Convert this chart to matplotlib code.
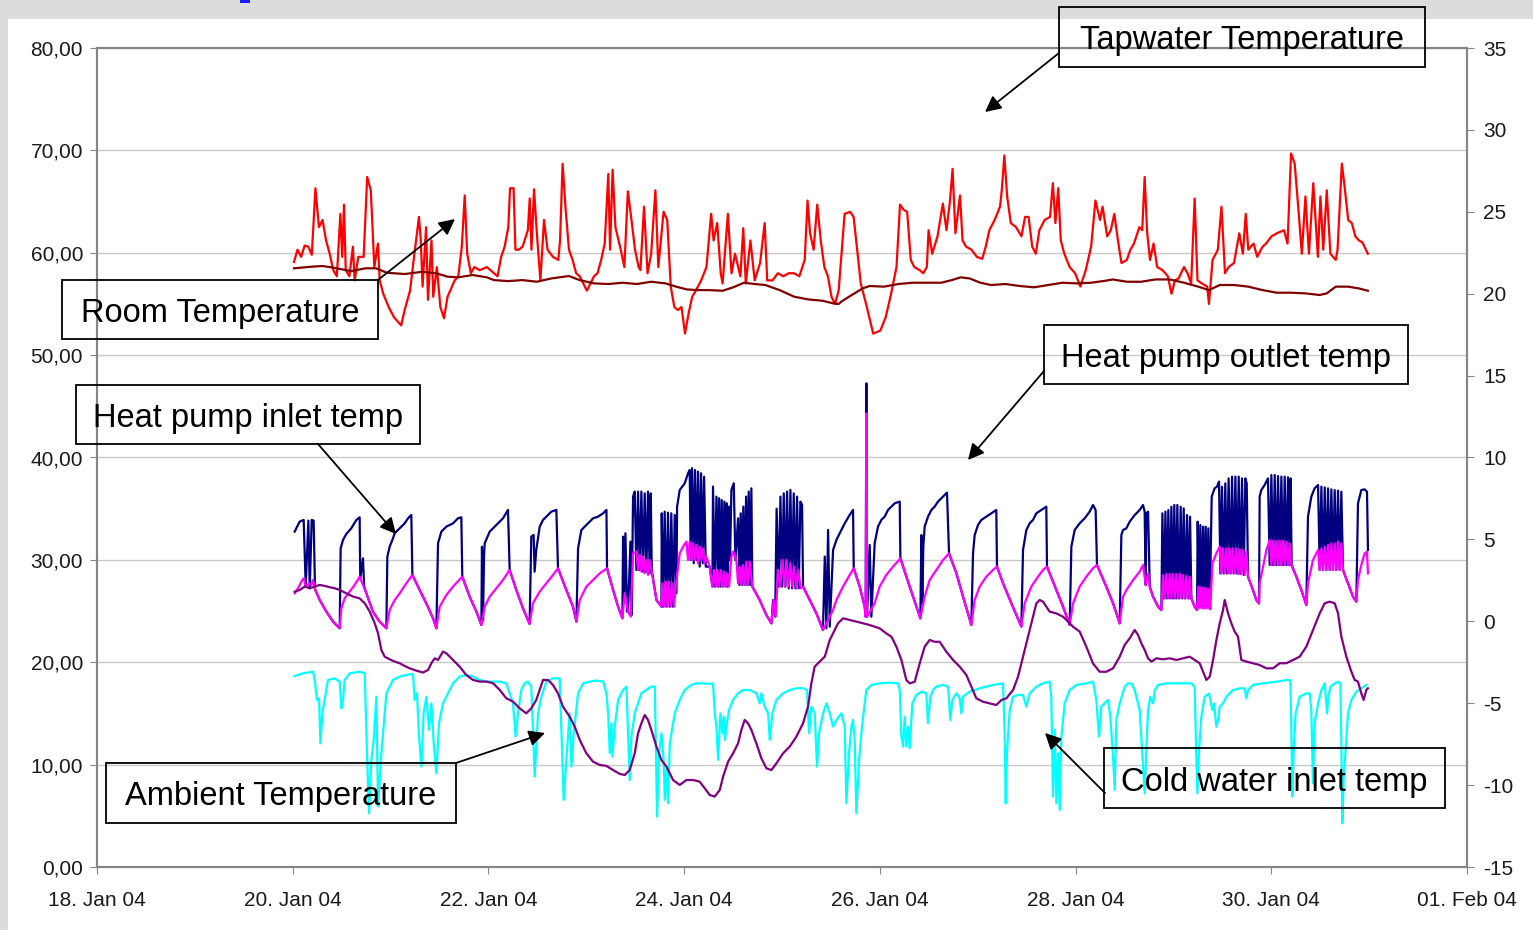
import matplotlib
matplotlib.use('Agg')
import matplotlib.pyplot as plt
import matplotlib.dates as mdates
from matplotlib.patches import Rectangle, FancyArrowPatch
import numpy as np
import datetime as dt

plt.rcParams['font.family'] = ['Liberation Sans', 'DejaVu Sans']

# ---------------- data ----------------
START = dt.datetime(2004, 1, 20)   # time values are days after this moment

x_tick_dates = ['2004-01-18', '2004-01-20', '2004-01-22', '2004-01-24',
                '2004-01-26', '2004-01-28', '2004-01-30', '2004-02-01']
x_tick_labels = ['18. Jan 04', '20. Jan 04', '22. Jan 04', '24. Jan 04',
                 '26. Jan 04', '28. Jan 04', '30. Jan 04', '01. Feb 04']
left_ticks = [0, 10, 20, 30, 40, 50, 60, 70, 80]
left_tick_labels = ['0,00', '10,00', '20,00', '30,00', '40,00', '50,00',
                    '60,00', '70,00', '80,00']
right_ticks = [-15, -10, -5, 0, 5, 10, 15, 20, 25, 30, 35]
right_tick_labels = ['-15', '-10', '-5', '0', '5', '10', '15', '20', '25',
                     '30', '35']

# (day, value) pairs -- left axis
tapwater = [
    (0.013, 59.1), (0.049, 60.3), (0.086, 59.6), (0.122, 60.7), (0.159, 60.6), (0.195, 59.8), (0.232, 66.3),
    (0.268, 62.5), (0.305, 63.2), (0.341, 61.2), (0.378, 59.9), (0.414, 58.3), (0.451, 57.7), (0.487, 63.8),
    (0.506, 59.6), (0.524, 64.7), (0.542, 58.3), (0.579, 57.7), (0.615, 60.6), (0.633, 57.3), (0.670, 59.6),
    (0.725, 59.6), (0.761, 67.4), (0.798, 66.1), (0.834, 58.6), (0.871, 60.9), (0.889, 57.3), (0.925, 56.0),
    (0.980, 54.7), (1.035, 53.7), (1.108, 52.9), (1.144, 54.4), (1.199, 56.3), (1.236, 59.3), (1.290, 63.5),
    (1.309, 61.2), (1.327, 56.7), (1.363, 62.5), (1.382, 55.4), (1.418, 61.2), (1.436, 55.7), (1.473, 58.6),
    (1.509, 54.7), (1.546, 53.6), (1.582, 55.7), (1.655, 57.3), (1.692, 57.7), (1.728, 60.6), (1.758, 65.6),
    (1.783, 59.9), (1.820, 58.0), (1.856, 58.6), (1.911, 58.3), (1.984, 58.6), (2.057, 58.0), (2.093, 57.7),
    (2.130, 59.6), (2.166, 60.6), (2.203, 62.5), (2.221, 66.3), (2.257, 66.3), (2.276, 60.3), (2.312, 60.3),
    (2.349, 60.6), (2.403, 62.2), (2.422, 65.3), (2.440, 60.3), (2.466, 66.2), (2.495, 61.9), (2.531, 57.3),
    (2.568, 63.2), (2.604, 60.3), (2.659, 59.6), (2.714, 59.3), (2.732, 61.2), (2.758, 68.7), (2.787, 64.5),
    (2.823, 60.3), (2.860, 59.3), (2.896, 58.0), (2.933, 57.7), (3.006, 56.3), (3.042, 57.0), (3.079, 57.7),
    (3.115, 58.0), (3.152, 59.3), (3.188, 60.9), (3.225, 67.7), (3.243, 60.3), (3.269, 68.1), (3.298, 62.5),
    (3.352, 60.3), (3.389, 58.6), (3.425, 66.0), (3.462, 63.2), (3.498, 60.3), (3.535, 58.6), (3.553, 58.3),
    (3.590, 64.5), (3.626, 58.0), (3.663, 59.9), (3.706, 66.1), (3.736, 58.6), (3.790, 64.0), (3.827, 63.2),
    (3.863, 56.7), (3.900, 54.7), (3.936, 54.4), (3.973, 54.7), (4.009, 52.1), (4.046, 54.1), (4.082, 55.7),
    (4.119, 56.3), (4.174, 57.3), (4.228, 58.6), (4.276, 63.8), (4.301, 61.2), (4.338, 62.9), (4.374, 58.0),
    (4.393, 57.0), (4.447, 63.8), (4.484, 58.0), (4.520, 59.9), (4.575, 57.7), (4.604, 62.4), (4.630, 57.0),
    (4.677, 61.2), (4.721, 57.3), (4.776, 59.0), (4.823, 62.9), (4.849, 57.3), (4.903, 57.3), (4.958, 58.0),
    (5.013, 57.7), (5.068, 58.0), (5.122, 58.0), (5.177, 57.7), (5.232, 59.3), (5.261, 65.1), (5.287, 61.9),
    (5.323, 60.3), (5.360, 64.7), (5.396, 61.2), (5.433, 58.6), (5.469, 57.7), (5.506, 55.7), (5.542, 55.0),
    (5.579, 56.3), (5.640, 63.8), (5.695, 64.0), (5.732, 63.5), (5.768, 60.3), (5.805, 57.0), (5.859, 55.0),
    (5.914, 52.8), (5.932, 52.1), (6.005, 52.4), (6.060, 53.7), (6.115, 56.0), (6.170, 58.6), (6.206, 64.7),
    (6.243, 64.2), (6.279, 64.0), (6.316, 59.3), (6.352, 58.6), (6.407, 58.3), (6.443, 58.0), (6.480, 58.6),
    (6.498, 62.2), (6.535, 59.9), (6.589, 61.6), (6.644, 64.8), (6.681, 62.2), (6.717, 65.1), (6.743, 68.2),
    (6.772, 61.9), (6.819, 65.6), (6.845, 61.2), (6.881, 60.6), (6.936, 60.3), (6.991, 59.6), (7.046, 59.4),
    (7.082, 60.6), (7.119, 62.2), (7.173, 63.2), (7.228, 64.5), (7.246, 66.1), (7.272, 69.5), (7.301, 65.5),
    (7.338, 62.9), (7.392, 62.5), (7.447, 61.6), (7.484, 63.5), (7.520, 63.5), (7.557, 60.6), (7.593, 59.9),
    (7.630, 62.2), (7.684, 63.2), (7.739, 63.5), (7.768, 66.8), (7.794, 62.9), (7.823, 66.3), (7.849, 61.2),
    (7.885, 59.9), (7.940, 58.6), (7.995, 58.0), (8.049, 56.7), (8.104, 58.3), (8.159, 60.6), (8.203, 65.1),
    (8.250, 63.2), (8.276, 64.5), (8.323, 61.6), (8.360, 62.2), (8.396, 63.8), (8.433, 61.2), (8.469, 59.0),
    (8.524, 59.3), (8.560, 60.3), (8.597, 60.9), (8.652, 62.5), (8.681, 62.2), (8.706, 67.4), (8.732, 61.9),
    (8.761, 59.3), (8.797, 60.9), (8.834, 58.6), (8.889, 58.3), (8.943, 57.7), (8.980, 56.0), (9.016, 57.3),
    (9.053, 57.5), (9.108, 58.6), (9.144, 58.0), (9.181, 57.0), (9.217, 65.3), (9.246, 57.3), (9.290, 57.0),
    (9.345, 56.7), (9.363, 55.0), (9.400, 59.3), (9.454, 60.3), (9.491, 64.5), (9.527, 58.0), (9.564, 58.6),
    (9.619, 59.0), (9.673, 61.9), (9.710, 59.9), (9.739, 63.8), (9.765, 60.3), (9.819, 60.9), (9.856, 59.6),
    (9.911, 60.6), (9.947, 60.9), (10.002, 61.6), (10.056, 61.9), (10.130, 62.2), (10.166, 60.9), (10.202, 69.7),
    (10.239, 68.7), (10.275, 64.5), (10.312, 59.9), (10.349, 65.5), (10.385, 59.9), (10.429, 66.8), (10.476, 59.6),
    (10.502, 65.5), (10.531, 60.3), (10.567, 66.1), (10.604, 59.9), (10.659, 59.3), (10.677, 60.3), (10.721, 68.7),
    (10.750, 66.4), (10.786, 63.2), (10.823, 62.9), (10.859, 61.6), (10.896, 61.2), (10.932, 61.0), (10.987, 59.9),
]

hp_outlet = [
    (0.020, 32.76), (0.071, 33.74), (0.112, 33.90), (0.133, 27.39), (0.160, 33.83), (0.174, 27.22), (0.194, 33.90),
    (0.214, 33.83), (0.228, 27.13), (0.276, 26.08), (0.344, 24.94), (0.412, 23.97), (0.480, 23.32), (0.490, 31.13),
    (0.514, 31.95), (0.548, 32.53), (0.599, 33.09), (0.650, 33.90), (0.684, 34.16), (0.690, 28.2), (0.718, 30.15),
    (0.730, 27.4), (0.752, 26.74), (0.820, 24.94), (0.888, 23.97), (0.957, 23.32), (0.967, 30.32), (0.991, 31.29),
    (1.025, 32.11), (1.042, 32.60), (1.093, 33.09), (1.144, 33.57), (1.178, 34.06), (1.212, 34.39), (1.223, 28.53),
    (1.297, 27.06), (1.365, 25.76), (1.434, 24.29), (1.468, 23.32), (1.485, 31.62), (1.519, 32.76), (1.570, 33.25),
    (1.638, 33.57), (1.689, 34.06), (1.723, 34.16), (1.733, 28.36), (1.808, 26.41), (1.877, 24.94), (1.928, 23.64),
    (1.934, 31.29), (1.945, 24.13), (1.955, 30.32), (1.962, 31.62), (2.013, 32.76), (2.081, 33.41), (2.149, 34.06),
    (2.200, 34.88), (2.217, 29.01), (2.285, 27.06), (2.353, 25.27), (2.421, 23.74), (2.438, 32.27), (2.462, 32.43),
    (2.472, 28.85), (2.489, 30.97), (2.524, 33.25), (2.558, 33.90), (2.609, 34.39), (2.643, 34.71), (2.694, 34.88),
    (2.711, 29.18), (2.796, 27.06), (2.864, 25.43),
    (2.899, 23.97), (2.916, 31.13), (2.950, 32.92), (2.984, 33.25), (3.035, 33.74), (3.069, 34.06), (3.120, 34.22),
    (3.172, 34.55), (3.206, 34.88), (3.212, 29.18), (3.274, 27.06), (3.325, 25.43), (3.369, 24.29), (3.376, 32.27),
    (3.386, 25.76), (3.400, 32.60), (3.417, 24.94), (3.427, 24.94), (3.451, 31.78), (3.464, 24.62), (3.478, 36.18),
    (3.495, 36.67), (3.512, 29.01), (3.529, 36.67), (3.546, 29.01), (3.563, 36.67), (3.580, 28.85), (3.597, 36.50),
    (3.614, 28.85), (3.631, 36.67), (3.648, 28.69), (3.659, 36.50), (3.669, 29.01), (3.717, 26.08), (3.768, 25.43),
    (3.771, 34.55), (3.784, 25.43), (3.801, 34.71), (3.818, 25.43), (3.835, 34.61), (3.852, 25.43), (3.869, 34.55),
    (3.887, 25.43), (3.904, 34.39), (3.921, 26.74), (3.928, 35.20), (3.955, 36.83), (4.006, 37.48), (4.040, 38.46),
    (4.057, 38.78), (4.067, 29.99), (4.081, 38.95), (4.098, 29.67), (4.111, 38.78), (4.128, 29.99), (4.142, 38.62),
    (4.159, 29.34), (4.173, 38.46), (4.190, 29.67), (4.204, 38.13), (4.221, 29.34), (4.261, 29.34), (4.289, 27.39),
    (4.295, 37.16), (4.313, 27.39), (4.330, 36.18), (4.347, 27.39), (4.357, 36.02), (4.371, 27.39), (4.384, 35.85),
    (4.398, 27.39), (4.411, 35.69), (4.425, 27.39), (4.435, 35.53), (4.445, 27.39), (4.459, 35.20), (4.469, 29.99),
    (4.483, 36.83), (4.507, 37.48), (4.524, 29.99), (4.551, 34.06), (4.565, 27.55), (4.578, 34.55), (4.592, 27.55),
    (4.605, 35.20), (4.619, 27.55), (4.633, 36.18), (4.646, 27.55), (4.660, 36.67), (4.674, 27.55), (4.687, 36.99),
    (4.697, 27.39), (4.772, 26.08), (4.840, 24.62), (4.892, 23.80), (4.909, 26.08), (4.930, 24.46), (4.945, 35.00),
    (4.966, 27.39), (4.984, 36.18), (5.001, 27.39), (5.018, 36.50), (5.035, 27.39), (5.052, 36.67), (5.069, 27.22),
    (5.086, 36.83), (5.103, 27.22), (5.120, 36.50), (5.137, 27.22), (5.154, 36.18), (5.171, 27.22), (5.188, 35.69),
    (5.205, 35.36), (5.215, 27.39), (5.283, 26.08), (5.351, 24.78), (5.419, 23.15), (5.437, 30.32), (5.454, 23.32),
    (5.471, 32.92), (5.488, 23.48), (5.522, 30.97), (5.556, 31.95), (5.590, 32.60), (5.641, 33.57), (5.692, 34.39),
    (5.726, 34.88), (5.733, 29.18), (5.794, 27.39), (5.845, 25.43),
    (5.855, 24.45), (5.862, 47.25), (5.869, 24.45), (5.896, 31.46), (5.913, 24.45), (5.947, 31.62), (5.981, 33.25),
    (6.015, 33.90), (6.049, 34.22), (6.083, 34.87), (6.118, 35.20), (6.152, 35.53), (6.203, 35.69), (6.210, 30.15),
    (6.271, 28.36), (6.339, 26.41), (6.414, 24.29), (6.424, 32.43), (6.434, 25.76), (6.444, 31.29), (6.458, 33.25),
    (6.492, 34.22), (6.526, 34.87), (6.560, 35.20), (6.594, 35.69), (6.628, 36.01), (6.662, 36.34), (6.686, 36.57),
    (6.707, 30.64), (6.782, 28.69), (6.850, 26.41), (6.935, 23.64), (6.952, 30.64), (6.969, 32.43), (7.003, 33.41),
    (7.037, 33.90), (7.088, 34.22), (7.139, 34.55), (7.190, 34.87), (7.197, 29.34), (7.259, 27.71), (7.344, 25.76),
    (7.446, 23.48), (7.463, 30.97), (7.497, 32.92), (7.531, 33.57), (7.565, 33.90), (7.599, 34.55), (7.650, 34.87),
    (7.701, 35.20), (7.708, 29.34), (7.804, 27.06), (7.872, 25.43), (7.940, 23.64), (7.957, 31.29), (7.991, 32.92),
    (8.042, 33.57), (8.093, 34.06), (8.144, 34.71), (8.178, 35.36), (8.205, 34.87), (8.219, 29.50), (8.314, 27.39),
    (8.383, 25.76), (8.451, 23.80),
    (8.468, 32.43), (8.485, 32.92), (8.519, 33.08), (8.553, 33.73), (8.604, 34.38), (8.655, 34.87), (8.689, 35.36),
    (8.706, 34.71), (8.717, 27.54), (8.723, 34.54), (8.741, 34.71), (8.758, 27.38), (8.792, 26.40), (8.843, 25.43),
    (8.877, 25.10), (8.887, 34.54), (8.904, 26.24), (8.918, 34.71), (8.935, 26.24), (8.948, 34.87), (8.965, 26.24),
    (8.979, 35.19), (8.996, 26.24), (9.009, 35.36), (9.026, 26.24), (9.040, 35.36), (9.057, 26.24), (9.074, 35.19),
    (9.091, 26.24), (9.105, 35.03), (9.122, 26.24), (9.139, 34.38), (9.156, 26.24), (9.170, 34.22), (9.183, 26.24),
    (9.217, 25.43), (9.241, 25.10), (9.248, 33.73), (9.262, 25.43), (9.275, 33.40), (9.289, 25.43), (9.303, 33.24),
    (9.316, 25.43), (9.330, 33.24), (9.343, 25.43), (9.357, 33.08), (9.371, 25.26), (9.391, 36.17), (9.421, 36.99),
    (9.445, 37.15), (9.466, 37.64), (9.480, 28.68), (9.496, 37.15), (9.513, 28.68), (9.530, 37.47), (9.547, 28.68),
    (9.564, 37.96), (9.582, 28.68), (9.599, 38.13), (9.616, 28.68), (9.633, 38.13), (9.650, 28.68), (9.667, 38.13),
    (9.684, 28.62), (9.701, 37.96), (9.718, 28.52), (9.735, 37.96), (9.749, 37.47), (9.762, 28.36), (9.813, 27.05),
    (9.847, 26.08), (9.875, 25.75), (9.881, 36.17), (9.898, 36.82), (9.932, 37.31), (9.966, 37.96), (9.984, 29.50),
    (10.001, 38.29), (10.018, 29.50), (10.035, 38.29), (10.052, 29.50), (10.069, 38.19), (10.086, 29.50),
    (10.103, 38.13), (10.120, 29.50), (10.137, 38.13), (10.154, 29.50), (10.171, 38.06), (10.188, 29.50),
    (10.198, 37.96), (10.208, 29.50), (10.256, 28.36), (10.307, 27.05), (10.358, 25.59), (10.375, 34.22),
    (10.409, 36.17), (10.443, 36.99), (10.478, 37.31), (10.495, 29.01), (10.512, 37.15), (10.529, 29.01),
    (10.546, 37.08), (10.563, 29.01), (10.580, 36.99), (10.597, 29.01), (10.614, 36.89), (10.631, 29.01),
    (10.648, 36.82), (10.665, 29.01), (10.682, 36.76), (10.699, 29.01), (10.716, 36.66), (10.733, 29.01),
    (10.784, 27.71), (10.835, 26.40), (10.869, 25.92), (10.886, 35.52), (10.920, 36.82), (10.954, 36.89),
    (10.978, 36.66), (10.988, 30.96),
]

hp_inlet = [
    (0.020, 26.74), (0.054, 27.22), (0.088, 27.87), (0.112, 28.20), (0.133, 27.39), (0.167, 27.71), (0.190, 27.55),
    (0.207, 28.04), (0.228, 27.13), (0.276, 26.08), (0.344, 24.94), (0.412, 23.97), (0.480, 23.32), (0.497, 25.27),
    (0.531, 26.25), (0.582, 26.90), (0.633, 27.55), (0.684, 28.36), (0.752, 26.74), (0.820, 24.94), (0.888, 23.97),
    (0.957, 23.32), (0.991, 25.11), (1.042, 26.08), (1.093, 26.74), (1.161, 27.71), (1.223, 28.53), (1.297, 27.06),
    (1.365, 25.76), (1.434, 24.29), (1.468, 23.32), (1.502, 25.43), (1.570, 26.57), (1.638, 27.39), (1.733, 28.36),
    (1.808, 26.41), (1.877, 24.94), (1.928, 23.64), (1.962, 25.43), (2.013, 26.41), (2.081, 27.22), (2.149, 28.04),
    (2.217, 29.01), (2.285, 27.06), (2.353, 25.27), (2.421, 23.74), (2.455, 25.76), (2.524, 26.90), (2.592, 27.71),
    (2.660, 28.53), (2.711, 29.18), (2.796, 27.06), (2.864, 25.43),
    (2.899, 23.97), (2.933, 26.08), (3.001, 27.39), (3.069, 28.04), (3.138, 28.69), (3.212, 29.18), (3.274, 27.06),
    (3.325, 25.43), (3.369, 24.29), (3.393, 26.74), (3.427, 24.94), (3.454, 24.46), (3.478, 30.64), (3.512, 30.81),
    (3.529, 29.01), (3.546, 30.48), (3.563, 28.85), (3.580, 30.32), (3.597, 28.69), (3.614, 29.99), (3.631, 28.53),
    (3.648, 29.99), (3.665, 29.01), (3.717, 26.08), (3.768, 25.43), (3.778, 27.71), (3.795, 25.43), (3.812, 27.87),
    (3.829, 25.43), (3.846, 27.87), (3.863, 25.43), (3.880, 27.71), (3.897, 25.43), (3.914, 27.39), (3.955, 30.64),
    (3.989, 31.29), (4.023, 31.78), (4.040, 29.99), (4.057, 31.78), (4.074, 29.99), (4.091, 31.62), (4.108, 29.99),
    (4.125, 31.46), (4.142, 29.67), (4.159, 31.29), (4.176, 29.99), (4.193, 31.13), (4.210, 29.67), (4.227, 30.32),
    (4.261, 29.34), (4.289, 27.39), (4.306, 29.01), (4.323, 27.39), (4.340, 29.01), (4.357, 27.39), (4.374, 29.01),
    (4.391, 27.39), (4.408, 28.85), (4.425, 27.39), (4.442, 28.69), (4.459, 27.39), (4.483, 30.32), (4.500, 30.81),
    (4.534, 29.99), (4.551, 27.71), (4.568, 29.34), (4.585, 27.55), (4.602, 29.50), (4.619, 27.55), (4.636, 29.83),
    (4.653, 27.55), (4.670, 29.83), (4.697, 27.39), (4.772, 26.08), (4.840, 24.62), (4.892, 23.80), (4.915, 26.08),
    (4.936, 24.46), (4.960, 29.01), (4.984, 27.39), (5.004, 29.99), (5.028, 27.39), (5.045, 29.99), (5.069, 27.39),
    (5.086, 29.67), (5.106, 27.39), (5.123, 29.34), (5.147, 27.22), (5.167, 29.01), (5.191, 27.22), (5.215, 27.39),
    (5.283, 26.08), (5.351, 24.78), (5.419, 23.15), (5.454, 23.80), (5.488, 24.46), (5.522, 25.11), (5.556, 26.08),
    (5.624, 27.39), (5.692, 28.53), (5.733, 29.18), (5.794, 27.39), (5.845, 25.43),
    (5.855, 24.45), (5.862, 44.32), (5.869, 24.45), (5.947, 25.76), (5.998, 27.39), (6.066, 28.53), (6.135, 29.34),
    (6.210, 30.15), (6.271, 28.36), (6.339, 26.41), (6.414, 24.29), (6.458, 26.41), (6.509, 28.04), (6.577, 29.01),
    (6.646, 29.99), (6.707, 30.64), (6.782, 28.69), (6.850, 26.41), (6.935, 23.64), (6.969, 26.08), (7.020, 27.39),
    (7.088, 28.36), (7.156, 29.01), (7.197, 29.34), (7.259, 27.71), (7.344, 25.76), (7.446, 23.48), (7.480, 25.76),
    (7.548, 27.39), (7.616, 28.36), (7.667, 29.01), (7.708, 29.34), (7.804, 27.06), (7.872, 25.43), (7.940, 23.64),
    (7.974, 25.76), (8.042, 27.39), (8.110, 28.36), (8.178, 29.18), (8.219, 29.50), (8.314, 27.39), (8.383, 25.76),
    (8.451, 23.80),
    (8.485, 26.40), (8.519, 27.05), (8.587, 28.03), (8.655, 28.85), (8.689, 29.50), (8.717, 27.54), (8.741, 28.68),
    (8.758, 27.38), (8.792, 26.40), (8.843, 25.43), (8.877, 25.10), (8.894, 28.52), (8.911, 26.24), (8.928, 28.62),
    (8.945, 26.24), (8.962, 28.62), (8.979, 26.24), (8.996, 28.62), (9.013, 26.24), (9.030, 28.62), (9.047, 26.24),
    (9.064, 28.62), (9.081, 26.24), (9.098, 28.52), (9.115, 26.24), (9.132, 28.42), (9.149, 26.24), (9.166, 28.36),
    (9.183, 26.24), (9.217, 25.43), (9.241, 25.10), (9.255, 27.38), (9.268, 25.26), (9.282, 27.32), (9.296, 25.26),
    (9.309, 27.32), (9.323, 25.26), (9.337, 27.22), (9.350, 25.26), (9.364, 27.12), (9.377, 25.17), (9.398, 29.66),
    (9.439, 30.64), (9.473, 31.29), (9.490, 28.68), (9.507, 31.12), (9.524, 28.68), (9.541, 31.12), (9.558, 28.68),
    (9.575, 31.12), (9.592, 28.68), (9.609, 31.12), (9.626, 28.68), (9.643, 31.12), (9.660, 28.62), (9.677, 31.03),
    (9.694, 28.62), (9.711, 30.96), (9.728, 28.52), (9.745, 30.80), (9.762, 28.36), (9.813, 27.05), (9.847, 26.08),
    (9.875, 25.75), (9.881, 27.71), (9.916, 29.33), (9.950, 30.96), (9.984, 31.94), (10.001, 29.50), (10.018, 31.87),
    (10.035, 29.50), (10.052, 31.87), (10.069, 29.50), (10.086, 31.87), (10.103, 29.50), (10.120, 31.87),
    (10.137, 29.50), (10.154, 31.78), (10.171, 29.50), (10.188, 31.61), (10.205, 29.50), (10.256, 28.36),
    (10.307, 27.05), (10.358, 25.59), (10.375, 27.71), (10.426, 29.99), (10.478, 30.96), (10.495, 29.01),
    (10.512, 31.12), (10.529, 29.01), (10.546, 31.29), (10.563, 29.01), (10.580, 31.45), (10.597, 29.01),
    (10.614, 31.61), (10.631, 29.01), (10.648, 31.61), (10.665, 29.01), (10.682, 31.78), (10.699, 29.01),
    (10.716, 31.61), (10.733, 29.01), (10.784, 27.71), (10.835, 26.40), (10.869, 25.92), (10.886, 28.03),
    (10.920, 29.50), (10.954, 30.64), (10.978, 30.80), (10.988, 28.68),
]

cold_water = [
    (0.020, 18.66), (0.105, 18.92), (0.208, 19.08), (0.225, 18.27), (0.248, 16.32), (0.269, 16.48), (0.283, 12.08),
    (0.303, 15.01), (0.361, 18.27), (0.429, 18.43), (0.480, 18.11), (0.497, 15.50), (0.514, 16.32), (0.531, 18.27),
    (0.582, 18.92), (0.684, 19.08), (0.736, 18.92), (0.759, 11.11), (0.780, 5.25), (0.804, 10.46), (0.827, 12.41),
    (0.855, 16.64), (0.872, 5.90), (0.906, 11.11), (0.957, 16.97), (1.025, 18.27), (1.093, 18.60), (1.161, 18.76),
    (1.229, 18.86), (1.246, 16.32), (1.270, 16.97), (1.291, 12.74), (1.315, 9.80), (1.338, 15.01), (1.366, 16.64),
    (1.393, 13.39), (1.417, 15.99), (1.441, 12.08), (1.468, 9.15), (1.495, 14.04), (1.536, 15.99), (1.587, 16.97),
    (1.638, 17.94), (1.706, 18.60), (1.774, 18.76), (1.842, 18.60), (1.910, 18.27), (1.979, 18.11), (2.047, 18.11),
    (2.115, 18.11), (2.183, 17.94), (2.217, 16.97), (2.251, 15.99), (2.278, 12.74), (2.302, 15.01), (2.336, 17.29),
    (2.370, 17.94), (2.404, 18.11), (2.438, 17.62), (2.473, 8.83), (2.507, 15.01), (2.541, 16.64), (2.592, 18.11),
    (2.660, 18.43), (2.728, 18.43), (2.769, 6.55), (2.796, 10.46), (2.830, 15.01),
    (2.848, 9.80), (2.872, 13.06), (2.916, 16.97), (2.967, 17.94), (3.035, 18.11), (3.103, 18.21), (3.172, 18.11),
    (3.206, 16.97), (3.223, 15.01), (3.240, 11.11), (3.257, 14.04), (3.267, 10.78), (3.291, 13.71), (3.325, 16.32),
    (3.376, 17.29), (3.410, 17.62), (3.427, 13.06), (3.444, 8.50), (3.461, 12.74), (3.495, 15.01), (3.529, 15.99),
    (3.563, 16.97), (3.614, 17.29), (3.665, 17.62), (3.700, 17.62), (3.710, 12.41), (3.723, 4.92), (3.744, 11.11),
    (3.768, 13.06), (3.791, 10.46), (3.802, 6.55), (3.819, 9.48), (3.836, 6.22), (3.853, 12.08), (3.904, 15.01),
    (3.955, 16.32), (4.006, 17.29), (4.074, 17.78), (4.125, 17.94), (4.193, 17.94), (4.261, 17.88), (4.295, 17.94),
    (4.313, 15.01), (4.330, 13.71), (4.347, 10.46), (4.371, 15.01), (4.391, 13.06), (4.405, 14.69), (4.418, 12.41),
    (4.432, 13.71), (4.459, 15.34), (4.500, 16.32), (4.551, 16.97), (4.602, 17.29), (4.670, 17.29), (4.738, 16.97),
    (4.772, 15.99), (4.789, 16.97), (4.823, 15.67), (4.858, 15.01), (4.875, 12.41), (4.902, 15.01), (4.943, 16.32),
    (5.011, 16.97), (5.079, 17.29), (5.147, 17.46), (5.215, 17.46), (5.256, 17.29), (5.277, 13.06), (5.300, 15.67),
    (5.334, 15.01), (5.358, 9.80), (5.379, 13.06), (5.420, 15.01), (5.454, 15.99), (5.488, 15.01), (5.522, 13.71),
    (5.556, 14.36), (5.607, 15.01), (5.641, 13.71), (5.658, 6.22), (5.685, 11.11), (5.709, 13.71), (5.726, 14.36),
    (5.743, 12.41), (5.760, 5.25), (5.788, 10.46), (5.811, 13.06), (5.845, 16.0),
    (5.862, 17.29), (5.913, 17.78), (5.998, 17.94), (6.101, 18.01), (6.186, 17.94), (6.203, 17.29), (6.220, 12.73),
    (6.237, 11.76), (6.254, 14.69), (6.271, 11.76), (6.288, 13.71), (6.305, 11.59), (6.332, 15.99), (6.373, 16.80),
    (6.424, 17.13), (6.475, 16.97), (6.492, 14.04), (6.516, 16.64), (6.543, 17.29), (6.577, 17.62), (6.646, 17.78),
    (6.697, 17.62), (6.720, 14.36), (6.741, 16.32), (6.782, 16.97), (6.816, 16.48), (6.833, 15.01), (6.850, 16.64),
    (6.918, 17.13), (7.020, 17.46), (7.156, 17.78), (7.259, 17.94), (7.276, 12.73), (7.286, 6.22), (7.299, 11.11),
    (7.327, 15.34), (7.361, 16.64), (7.412, 16.80), (7.463, 16.80), (7.497, 15.66), (7.531, 16.97), (7.599, 17.62),
    (7.667, 17.94), (7.735, 18.11), (7.752, 16.64), (7.769, 6.87), (7.787, 13.38), (7.804, 6.22), (7.821, 11.11),
    (7.838, 5.57), (7.855, 12.73), (7.889, 15.99), (7.940, 17.29), (8.008, 17.78), (8.110, 17.94), (8.178, 18.11),
    (8.212, 16.32), (8.240, 12.73), (8.263, 15.66), (8.297, 15.99), (8.332, 16.32), (8.355, 14.69), (8.383, 10.78),
    (8.400, 7.52), (8.417, 14.36), (8.451, 15.99),
    (8.502, 17.61), (8.536, 17.94), (8.570, 17.94), (8.604, 17.29), (8.655, 15.33), (8.683, 10.77), (8.706, 7.19),
    (8.723, 11.43), (8.741, 15.33), (8.764, 16.64), (8.792, 15.98), (8.809, 17.29), (8.843, 17.78), (8.928, 17.94),
    (9.064, 17.94), (9.183, 17.94), (9.217, 17.61), (9.234, 10.77), (9.245, 7.19), (9.262, 11.43), (9.285, 14.68),
    (9.320, 16.64), (9.364, 16.96), (9.398, 15.33), (9.415, 15.98), (9.439, 13.70), (9.456, 14.36), (9.473, 15.66),
    (9.507, 15.98), (9.541, 16.64), (9.609, 17.29), (9.677, 17.45), (9.728, 17.45), (9.745, 16.47), (9.762, 17.29),
    (9.813, 17.78), (9.915, 17.94), (10.052, 18.10), (10.154, 18.26), (10.195, 18.26), (10.205, 13.70),
    (10.215, 6.87), (10.229, 11.43), (10.249, 15.01), (10.273, 15.98), (10.290, 16.64), (10.324, 16.80),
    (10.358, 16.96), (10.392, 16.96), (10.409, 15.33), (10.426, 8.17), (10.443, 14.03), (10.478, 15.98),
    (10.512, 17.29), (10.546, 17.94), (10.570, 15.01), (10.583, 16.64), (10.604, 17.61), (10.648, 17.94),
    (10.682, 18.10), (10.706, 17.94), (10.716, 12.08), (10.726, 4.26), (10.740, 8.82), (10.760, 11.43),
    (10.784, 15.01), (10.818, 16.31), (10.869, 17.12), (10.920, 17.45), (10.971, 17.78),
]

# (day, value) pairs -- right axis
room = [
    (0.013, 21.55), (0.195, 21.65), (0.305, 21.69), (0.414, 21.59), (0.597, 21.38), (0.743, 21.55), (0.852, 21.55),
    (0.962, 21.28), (1.144, 21.20), (1.327, 21.34), (1.473, 21.24), (1.582, 21.04), (1.692, 21.00), (1.838, 21.14),
    (1.984, 21.00), (2.057, 20.83), (2.203, 20.77), (2.349, 20.83), (2.495, 20.73), (2.641, 20.93), (2.823, 21.08),
    (2.933, 20.83), (3.079, 20.63), (3.225, 20.59), (3.371, 20.67), (3.517, 20.59), (3.663, 20.73), (3.809, 20.63),
    (3.918, 20.43), (4.028, 20.26), (4.137, 20.22), (4.247, 20.22), (4.393, 20.18), (4.502, 20.39), (4.612, 20.67),
    (4.721, 20.59), (4.830, 20.53), (4.976, 20.22), (5.123, 19.82), (5.268, 19.65), (5.414, 19.57), (5.524, 19.41),
    (5.579, 19.37), (5.604, 19.51), (5.713, 19.92), (5.823, 20.32), (5.896, 20.47), (6.042, 20.43), (6.188, 20.59),
    (6.334, 20.67), (6.480, 20.67), (6.626, 20.67), (6.735, 20.83), (6.827, 21.00), (6.918, 20.93), (7.027, 20.67),
    (7.137, 20.53), (7.283, 20.59), (7.429, 20.47), (7.575, 20.39), (7.721, 20.53), (7.867, 20.67), (8.013, 20.63),
    (8.159, 20.67), (8.305, 20.79), (8.378, 20.87), (8.524, 20.73), (8.670, 20.73), (8.816, 20.87), (8.962, 20.87),
    (9.108, 20.67), (9.254, 20.43), (9.363, 20.22), (9.473, 20.53), (9.619, 20.53), (9.765, 20.43), (9.911, 20.22),
    (10.057, 20.06), (10.202, 20.06), (10.349, 20.02), (10.494, 19.92), (10.567, 20.02), (10.659, 20.43),
    (10.786, 20.43), (10.896, 20.32), (10.987, 20.18),
]

ambient = [
    (0.020, 1.81), (0.071, 1.91), (0.122, 2.12), (0.174, 2.02), (0.225, 2.12), (0.276, 2.22), (0.327, 2.16),
    (0.378, 2.08), (0.429, 2.02), (0.480, 1.91), (0.548, 1.71), (0.616, 1.51), (0.684, 1.40), (0.736, 1.10),
    (0.787, 0.59), (0.838, -0.12), (0.872, -0.73), (0.906, -1.75), (0.940, -2.16), (0.991, -2.32), (1.042, -2.46),
    (1.093, -2.56), (1.144, -2.73), (1.195, -2.87), (1.263, -3.01), (1.332, -3.13), (1.383, -2.97), (1.417, -2.56),
    (1.451, -2.26), (1.485, -2.36), (1.536, -1.85), (1.570, -1.95), (1.638, -2.36), (1.706, -2.77), (1.774, -3.28),
    (1.842, -3.58), (1.910, -3.68), (1.979, -3.68), (2.047, -3.78), (2.115, -4.19), (2.183, -4.70), (2.251, -4.90),
    (2.319, -5.31), (2.387, -5.62), (2.438, -5.31), (2.489, -4.80), (2.558, -3.58), (2.609, -3.58), (2.660, -3.89),
    (2.711, -4.40), (2.762, -5.21), (2.830, -5.82),
    (2.882, -6.43), (2.933, -7.24), (3.001, -8.06), (3.069, -8.57), (3.138, -8.77), (3.206, -8.83), (3.274, -9.08),
    (3.342, -9.32), (3.393, -9.38), (3.444, -9.08), (3.495, -8.06), (3.529, -6.84), (3.563, -6.23), (3.597, -5.72),
    (3.631, -6.02), (3.665, -6.63), (3.717, -7.65), (3.768, -8.47), (3.819, -8.87), (3.887, -9.69), (3.955, -9.99),
    (4.023, -9.69), (4.091, -9.69), (4.159, -9.79), (4.210, -10.19), (4.261, -10.60), (4.312, -10.70),
    (4.364, -10.30), (4.398, -9.48), (4.449, -8.57), (4.500, -8.06), (4.551, -7.45), (4.585, -6.63), (4.619, -6.02),
    (4.653, -6.23), (4.687, -6.63), (4.738, -7.45), (4.789, -8.36), (4.840, -8.97), (4.892, -9.08), (4.943, -8.67),
    (5.011, -8.06), (5.079, -7.65), (5.147, -7.04), (5.215, -6.23), (5.266, -5.21), (5.300, -3.78), (5.334, -2.77),
    (5.385, -2.46), (5.437, -2.16), (5.488, -1.14), (5.539, -0.53), (5.573, -0.12), (5.624, 0.18), (5.692, 0.08),
    (5.760, -0.02), (5.828, -0.12),
    (5.896, -0.23), (5.998, -0.43), (6.066, -0.74), (6.118, -0.94), (6.169, -1.55), (6.220, -2.36), (6.271, -3.59),
    (6.305, -3.79), (6.356, -3.69), (6.407, -2.57), (6.458, -1.55), (6.509, -1.14), (6.560, -1.25), (6.611, -1.25),
    (6.680, -1.86), (6.748, -2.36), (6.816, -2.77), (6.884, -3.28), (6.935, -3.99), (6.986, -4.70), (7.054, -4.91),
    (7.122, -5.01), (7.190, -5.11), (7.242, -4.81), (7.293, -4.70), (7.361, -4.20), (7.412, -3.38), (7.463, -2.16),
    (7.514, -0.94), (7.565, 0.28), (7.599, 1.09), (7.633, 1.30), (7.667, 1.20), (7.735, 0.59), (7.804, 0.48),
    (7.872, 0.28), (7.923, -0.02), (7.974, -0.33), (8.042, -0.63), (8.110, -1.55), (8.178, -2.57), (8.246, -3.08),
    (8.314, -3.08), (8.383, -2.87), (8.451, -2.16),
    (8.502, -1.44), (8.553, -1.04), (8.604, -0.53), (8.638, -0.83), (8.672, -1.34), (8.706, -1.75), (8.741, -2.26),
    (8.775, -2.46), (8.826, -2.26), (8.894, -2.32), (8.962, -2.26), (9.030, -2.36), (9.098, -2.26), (9.166, -2.16),
    (9.217, -2.36), (9.268, -2.56), (9.302, -3.07), (9.337, -3.58), (9.371, -3.38), (9.405, -2.36), (9.439, -1.14),
    (9.473, -0.12), (9.507, 0.69), (9.524, 1.30), (9.558, 0.49), (9.592, -0.12), (9.626, -0.63), (9.660, -0.94),
    (9.694, -2.36), (9.745, -2.46), (9.813, -2.56), (9.881, -2.67), (9.950, -2.87), (10.018, -2.87),
    (10.086, -2.56), (10.154, -2.56), (10.222, -2.36), (10.290, -2.16), (10.358, -1.55), (10.426, -0.53),
    (10.495, 0.49), (10.546, 1.10), (10.597, 1.20), (10.648, 1.10), (10.682, 0.49), (10.716, -0.94),
    (10.767, -2.16), (10.818, -3.07), (10.852, -3.58), (10.886, -3.68), (10.920, -4.40), (10.944, -4.80),
    (10.971, -4.19), (10.988, -4.09),
]

annotation_texts = ['Tapwater Temperature', 'Room Temperature', 'Heat pump outlet temp',
                    'Heat pump inlet temp', 'Ambient Temperature', 'Cold water inlet temp']

# ---------------- layout (image pixels, origin top-left) ----------------
W, H = 1533, 930
box_px = [(1059, 7, 1425, 67), (62, 280, 378, 339), (1044, 325, 1408, 384),
          (76, 385, 420, 444), (106, 763, 456, 823), (1104, 748, 1445, 808)]
arrow_px = [((1059, 53), (985, 112)), ((378, 280), (455, 219)), ((1044, 371), (968, 460)),
            ((318, 444), (396, 534)), ((456, 763), (545, 733)), ((1105, 793), (1045, 733))]


def fx(x):
    return x / W


def fy(y):
    return 1 - y / H


def series(pairs):
    d = np.array([p[0] for p in pairs])
    v = np.array([p[1] for p in pairs])
    return mdates.date2num(START) + d, v


fig = plt.figure(figsize=(W / 100, H / 100), dpi=100)
fig.patch.set_facecolor('#dcdcdc')
fig.add_artist(Rectangle((fx(8), 0), 1 - fx(8), fy(19), transform=fig.transFigure,
                         facecolor='white', edgecolor='none', zorder=-10))
fig.add_artist(Rectangle((fx(240), fy(3)), fx(10), 3 / H, transform=fig.transFigure,
                         facecolor='#1a1aff', edgecolor='none', zorder=-9))

ax = fig.add_axes([fx(97), fy(867), fx(1467) - fx(97), fy(48) - fy(867)])
ax.set_facecolor('white')
ax2 = ax.twinx()

grey = '#858585'
for a in (ax, ax2):
    for s in a.spines.values():
        s.set_color(grey)
        s.set_linewidth(1.5)

ax.set_xlim(mdates.datestr2num(x_tick_dates[0]), mdates.datestr2num(x_tick_dates[-1]))
ax.set_xticks([mdates.datestr2num(d) for d in x_tick_dates])
ax.set_xticklabels(x_tick_labels)
ax.set_ylim(0, 80)
ax.set_yticks(left_ticks)
ax.set_yticklabels(left_tick_labels)
ax2.set_ylim(-15, 35)
ax2.set_yticks(right_ticks)
ax2.set_yticklabels(right_tick_labels)

ax.yaxis.grid(True, color='#c8c8c8', linewidth=1.0)
ax.set_axisbelow(True)

ax.tick_params(axis='y', direction='out', length=5, color=grey, labelsize=15,
               labelcolor='#1a1a1a', pad=5)
ax.tick_params(axis='x', direction='out', length=5, color=grey, labelsize=15,
               labelcolor='#1a1a1a', pad=12)
ax2.tick_params(axis='y', direction='out', length=5, color=grey, labelsize=15,
                labelcolor='#1a1a1a', pad=6.5)

lw = 1.6
t, v = series(tapwater)
ax.plot(t, v, color='#ff0000', lw=lw, zorder=3)
t, v = series(cold_water)
ax.plot(t, v, color='#00ffff', lw=lw, zorder=3)
t, v = series(hp_outlet)
ax.plot(t, v, color='#000080', lw=lw, zorder=4)
t, v = series(hp_inlet)
ax.plot(t, v, color='#ff00ff', lw=lw, zorder=5)

t, v = series(room)
ax2.plot(t, v, color='#800000', lw=lw, zorder=3)
t, v = series(ambient)
ax2.plot(t, v, color='#800080', lw=lw, zorder=3)

for text, (x0, y0, x1, y1), (pa, pb) in zip(annotation_texts, box_px, arrow_px):
    fig.add_artist(Rectangle((fx(x0), fy(y1)), fx(x1) - fx(x0), fy(y0) - fy(y1),
                             transform=fig.transFigure, facecolor='none',
                             edgecolor='black', linewidth=1.3, zorder=20))
    fig.text(fx((x0 + x1) / 2), fy((y0 + y1) / 2 + 4), text, ha='center', va='center',
             fontsize=23.5, color='black', zorder=21)
    fig.add_artist(FancyArrowPatch((fx(pa[0]), fy(pa[1])), (fx(pb[0]), fy(pb[1])),
                                   transform=fig.transFigure, arrowstyle='-|>',
                                   mutation_scale=24, linewidth=1.3, color='black',
                                   shrinkA=0, shrinkB=0, zorder=22))

fig.savefig('out.png', dpi=100, facecolor=fig.get_facecolor())
